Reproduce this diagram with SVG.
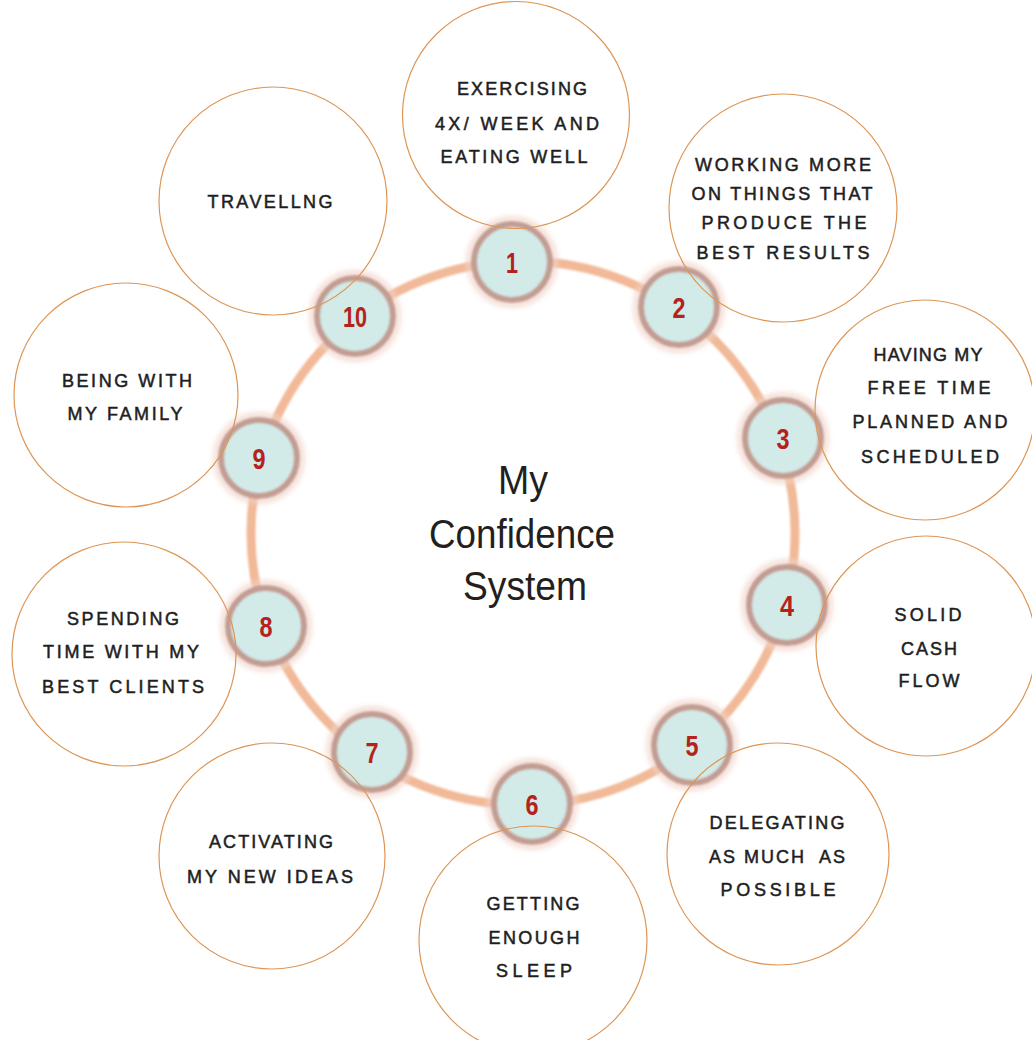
<svg xmlns="http://www.w3.org/2000/svg" width="1032" height="1040" viewBox="0 0 1032 1040">
  <defs>
    <filter id="soft" x="-30%" y="-30%" width="160%" height="160%">
      <feGaussianBlur stdDeviation="1.3"/>
    </filter>
    <filter id="halo" x="-40%" y="-40%" width="180%" height="180%">
      <feGaussianBlur stdDeviation="2.5"/>
    </filter>
    <style>
      .ring { fill: none; stroke: #f1b997; stroke-width: 9; }
      .glow { fill: none; stroke: #f2d3c8; stroke-width: 6; opacity: 0.7; }
      .marker { fill: #d2eae8; stroke: #c39c92; stroke-width: 6; }
      .num { font-family: "Liberation Sans Narrow", "Liberation Sans", Arial, sans-serif; font-weight: bold; font-size: 30px; fill: #b3231c; text-anchor: middle; }
      .bubble { fill: none; stroke: #dd9656; stroke-width: 1.2; }
      .label { font-family: "Liberation Sans", Arial, sans-serif; font-size: 18px; fill: #1e1e1e; stroke: #1e1e1e; stroke-width: 0.5; text-anchor: middle; }
      .title { font-family: "Liberation Sans Narrow", "Liberation Sans", Arial, sans-serif; font-size: 40px; fill: #231f20; text-anchor: middle; }
    </style>
  </defs>

  <rect width="1032" height="1040" fill="#ffffff"/>

  <!-- the ring linking the ten markers -->
  <g id="connectors">
    <circle class="ring" cx="523" cy="533" r="272" filter="url(#soft)"/>
  </g>

  <!-- centre title -->
  <g id="title">
    <text class="title" x="523" y="494" textLength="50" lengthAdjust="spacingAndGlyphs">My</text>
    <text class="title" x="522" y="548" textLength="186" lengthAdjust="spacingAndGlyphs">Confidence</text>
    <text class="title" x="525" y="600" textLength="124" lengthAdjust="spacingAndGlyphs">System</text>
  </g>

  <g id="item-1">
    <circle class="glow" cx="512" cy="262" r="43" filter="url(#halo)"/>
    <circle class="marker" cx="512" cy="262" r="38" filter="url(#soft)"/>
    <text class="num" x="512" y="273" textLength="12" lengthAdjust="spacingAndGlyphs">1</text>
    <circle class="bubble" cx="516" cy="115" r="113.5"/>
    <text class="label" x="522" y="95" textLength="130" lengthAdjust="spacing">EXERCISING</text>
    <text class="label" x="517" y="130" textLength="164" lengthAdjust="spacing">4X/ WEEK AND</text>
    <text class="label" x="514" y="163" textLength="147" lengthAdjust="spacing">EATING WELL</text>
  </g>

  <g id="item-2">
    <circle class="glow" cx="679" cy="307" r="43" filter="url(#halo)"/>
    <circle class="marker" cx="679" cy="307" r="38" filter="url(#soft)"/>
    <text class="num" x="679" y="318" textLength="13" lengthAdjust="spacingAndGlyphs">2</text>
    <circle class="bubble" cx="783" cy="208" r="114"/>
    <text class="label" x="783" y="171" textLength="176" lengthAdjust="spacing">WORKING MORE</text>
    <text class="label" x="782" y="200" textLength="181" lengthAdjust="spacing">ON THINGS THAT</text>
    <text class="label" x="784" y="229" textLength="165" lengthAdjust="spacing">PRODUCE THE</text>
    <text class="label" x="783" y="259" textLength="173" lengthAdjust="spacing">BEST RESULTS</text>
  </g>

  <g id="item-3">
    <circle class="glow" cx="783" cy="438" r="43" filter="url(#halo)"/>
    <circle class="marker" cx="783" cy="438" r="38" filter="url(#soft)"/>
    <text class="num" x="783" y="449" textLength="13" lengthAdjust="spacingAndGlyphs">3</text>
    <circle class="bubble" cx="925" cy="410" r="110"/>
    <text class="label" x="928" y="361" textLength="109" lengthAdjust="spacing">HAVING MY</text>
    <text class="label" x="929" y="394" textLength="123" lengthAdjust="spacing">FREE TIME</text>
    <text class="label" x="930" y="428" textLength="155" lengthAdjust="spacing">PLANNED AND</text>
    <text class="label" x="930" y="463" textLength="138" lengthAdjust="spacing">SCHEDULED</text>
  </g>

  <g id="item-4">
    <circle class="glow" cx="787" cy="605" r="43" filter="url(#halo)"/>
    <circle class="marker" cx="787" cy="605" r="38" filter="url(#soft)"/>
    <text class="num" x="787" y="616" textLength="14" lengthAdjust="spacingAndGlyphs">4</text>
    <circle class="bubble" cx="926" cy="646" r="110"/>
    <text class="label" x="928" y="621" textLength="67" lengthAdjust="spacing">SOLID</text>
    <text class="label" x="929" y="655" textLength="56" lengthAdjust="spacing">CASH</text>
    <text class="label" x="929" y="687" textLength="61" lengthAdjust="spacing">FLOW</text>
  </g>

  <g id="item-5">
    <circle class="glow" cx="692" cy="745" r="43" filter="url(#halo)"/>
    <circle class="marker" cx="692" cy="745" r="38" filter="url(#soft)"/>
    <text class="num" x="692" y="756" textLength="13" lengthAdjust="spacingAndGlyphs">5</text>
    <circle class="bubble" cx="778" cy="854" r="111"/>
    <text class="label" x="777" y="829" textLength="135" lengthAdjust="spacing">DELEGATING</text>
    <text class="label" x="777" y="863" textLength="136" lengthAdjust="spacing" xml:space="preserve">AS MUCH  AS</text>
    <text class="label" x="778" y="896" textLength="115" lengthAdjust="spacing">POSSIBLE</text>
  </g>

  <g id="item-6">
    <circle class="glow" cx="532" cy="804" r="43" filter="url(#halo)"/>
    <circle class="marker" cx="532" cy="804" r="38" filter="url(#soft)"/>
    <text class="num" x="532" y="815" textLength="13" lengthAdjust="spacingAndGlyphs">6</text>
    <circle class="bubble" cx="533" cy="940" r="114"/>
    <text class="label" x="533" y="910" textLength="93" lengthAdjust="spacing">GETTING</text>
    <text class="label" x="534" y="944" textLength="91" lengthAdjust="spacing">ENOUGH</text>
    <text class="label" x="534" y="977" textLength="76" lengthAdjust="spacing">SLEEP</text>
  </g>

  <g id="item-7">
    <circle class="glow" cx="372" cy="752" r="43" filter="url(#halo)"/>
    <circle class="marker" cx="372" cy="752" r="38" filter="url(#soft)"/>
    <text class="num" x="372" y="763" textLength="13" lengthAdjust="spacingAndGlyphs">7</text>
    <circle class="bubble" cx="272" cy="856" r="113"/>
    <text class="label" x="271" y="848" textLength="124" lengthAdjust="spacing">ACTIVATING</text>
    <text class="label" x="270" y="883" textLength="166" lengthAdjust="spacing">MY NEW IDEAS</text>
  </g>

  <g id="item-8">
    <circle class="glow" cx="266" cy="626" r="43" filter="url(#halo)"/>
    <circle class="marker" cx="266" cy="626" r="38" filter="url(#soft)"/>
    <text class="num" x="266" y="637" textLength="13" lengthAdjust="spacingAndGlyphs">8</text>
    <circle class="bubble" cx="124" cy="654" r="112"/>
    <text class="label" x="123" y="625" textLength="112" lengthAdjust="spacing">SPENDING</text>
    <text class="label" x="121" y="658" textLength="156" lengthAdjust="spacing">TIME WITH MY</text>
    <text class="label" x="123" y="693" textLength="162" lengthAdjust="spacing">BEST CLIENTS</text>
  </g>

  <g id="item-9">
    <circle class="glow" cx="259" cy="458" r="43" filter="url(#halo)"/>
    <circle class="marker" cx="259" cy="458" r="38" filter="url(#soft)"/>
    <text class="num" x="259" y="469" textLength="13" lengthAdjust="spacingAndGlyphs">9</text>
    <circle class="bubble" cx="126" cy="395" r="112"/>
    <text class="label" x="127" y="387" textLength="130" lengthAdjust="spacing">BEING WITH</text>
    <text class="label" x="125" y="420" textLength="115" lengthAdjust="spacing">MY FAMILY</text>
  </g>

  <g id="item-10">
    <circle class="glow" cx="355" cy="316" r="43" filter="url(#halo)"/>
    <circle class="marker" cx="355" cy="316" r="38" filter="url(#soft)"/>
    <text class="num" x="355" y="327" textLength="24" lengthAdjust="spacingAndGlyphs">10</text>
    <circle class="bubble" cx="273" cy="201" r="114"/>
    <text class="label" x="270" y="208" textLength="125" lengthAdjust="spacing">TRAVELLNG</text>
  </g>
</svg>
